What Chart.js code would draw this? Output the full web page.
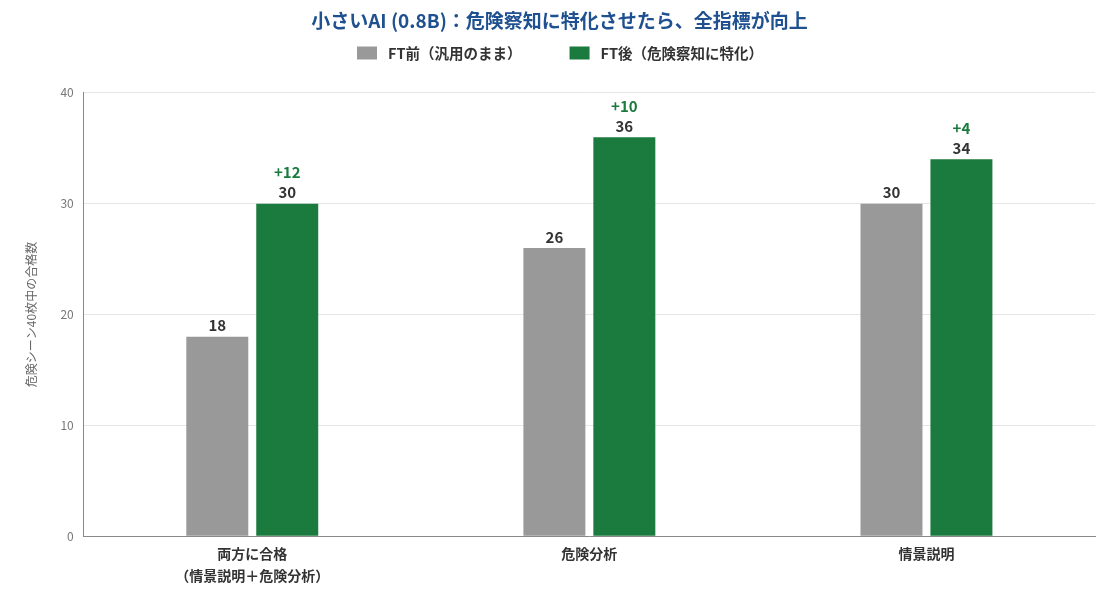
<!DOCTYPE html>
<html>
<head>
<meta charset="utf-8">
<script src="https://cdn.jsdelivr.net/npm/chart.js@4.4.1/dist/chart.umd.min.js"></script>
<style>
  html, body { margin: 0; padding: 0; background: #fff; }
  #wrap { width: 1120px; height: 600px; }
</style>
</head>
<body>
<div id="wrap"><canvas id="c"></canvas></div>
<script>
const categories = [['両方に合格', '（情景説明＋危険分析）'], '危険分析', '情景説明'];
const beforeValues = [18, 26, 30];
const afterValues = [30, 36, 34];
const deltaLabels = ['+12', '+10', '+4'];
const seriesNames = ['FT前（汎用のまま）', 'FT後（危険察知に特化）'];
const seriesColors = ['#999999', '#1b7a3d'];
const yTicks = [0, 10, 20, 30, 40];

const FONT = "'Noto Sans CJK JP', 'Noto Sans', sans-serif";

// value + improvement labels above bars
const barLabels = {
    id: 'barLabels',
    afterDatasetsDraw(chart) {
        const ctx = chart.ctx;
        ctx.save();
        ctx.textAlign = 'center';
        ctx.textBaseline = 'middle';
        chart.data.datasets.forEach((ds, di) => {
            const meta = chart.getDatasetMeta(di);
            meta.data.forEach((bar, i) => {
                ctx.font = 'bold 15px ' + FONT;
                ctx.fillStyle = '#333';
                ctx.fillText(ds.data[i], bar.x, bar.y - 11);
                if (di === 1) {
                    ctx.fillStyle = seriesColors[1];
                    ctx.fillText(deltaLabels[i], bar.x, bar.y - 31);
                }
            });
        });
        ctx.restore();
    }
};

// legend drawn by hand so it can sit tight under the title
const customLegend = {
    id: 'customLegend',
    afterDraw(chart) {
        const ctx = chart.ctx;
        ctx.save();
        ctx.font = 'bold 14.5px ' + FONT;
        ctx.textBaseline = 'middle';
        const boxW = 20, boxH = 13, gapText = 11, gapItem = 48;
        let x = 357;
        const y = 53;
        seriesNames.forEach((n, i) => {
            ctx.fillStyle = seriesColors[i];
            ctx.fillRect(x, y - boxH / 2, boxW, boxH);
            ctx.fillStyle = '#333';
            ctx.fillText(n, x + boxW + gapText, y);
            x += boxW + gapText + ctx.measureText(n).width + gapItem;
        });
        ctx.restore();
    }
};

new Chart(document.getElementById('c'), {
    type: 'bar',
    data: {
        labels: categories,
        datasets: [
            { label: seriesNames[0], data: beforeValues, backgroundColor: seriesColors[0] },
            { label: seriesNames[1], data: afterValues, backgroundColor: seriesColors[1] }
        ]
    },
    options: {
        responsive: true,
        maintainAspectRatio: false,
        animation: false,
        categoryPercentage: 0.415,
        barPercentage: 0.886,
        layout: { padding: { left: 24, right: 25, top: 0, bottom: 15 } },
        plugins: {
            title: {
                display: true,
                text: '小さいAI (0.8B)：危険察知に特化させたら、全指標が向上',
                color: '#1f5090',
                font: { family: FONT, size: 19, weight: 'bold' },
                padding: { top: 9, bottom: 61 }
            },
            legend: { display: false },
            tooltip: { enabled: false }
        },
        scales: {
            x: {
                grid: { display: false },
                border: { color: '#888' },
                ticks: { color: '#333', font: { family: FONT, size: 14, weight: 'bold', lineHeight: 1.6 }, padding: -2 }
            },
            y: {
                min: 0,
                max: 40,
                afterBuildTicks(axis) { axis.ticks = yTicks.map(v => ({ value: v })); },
                grid: { color: '#e6e6e6', drawTicks: false },
                border: { color: '#888' },
                ticks: { color: '#777', font: { family: FONT, size: 12 }, padding: 10 },
                title: {
                    display: true,
                    text: '危険シーン40枚中の合格数',
                    color: '#666',
                    font: { family: FONT, size: 12 },
                    padding: { top: 0, bottom: 12 }
                }
            }
        }
    },
    plugins: [barLabels, customLegend]
});
</script>
</body>
</html>
